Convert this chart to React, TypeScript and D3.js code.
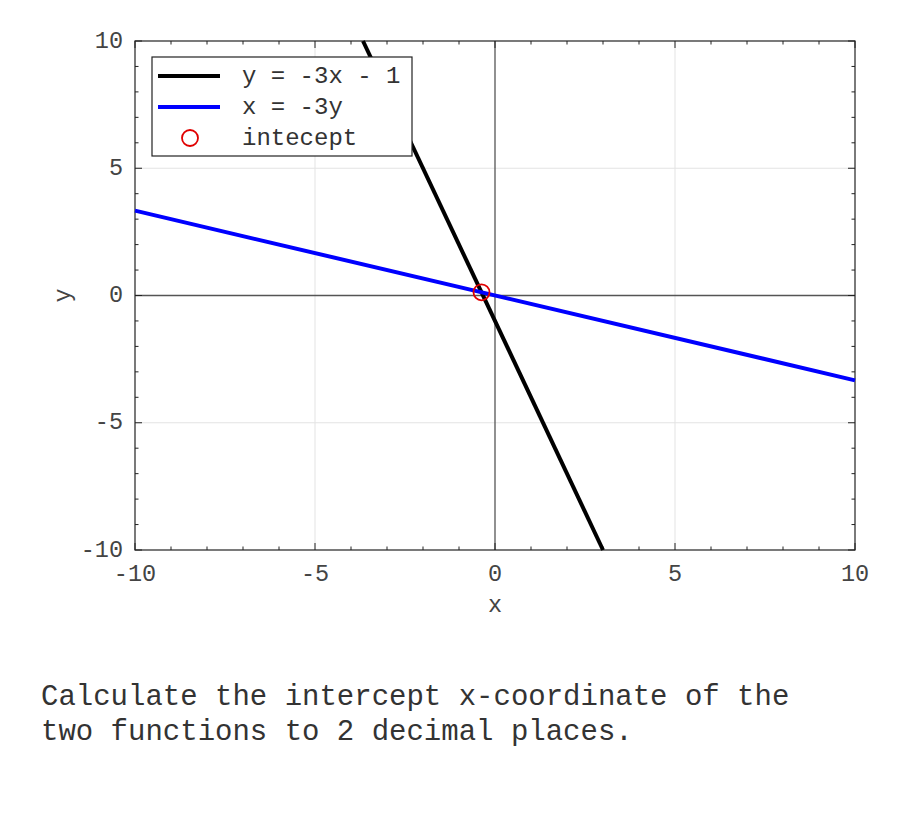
import React from "react";
import * as d3 from "d3";

const xDomain: [number, number] = [-10, 10];
const yDomain: [number, number] = [-10, 10];
const majorTicks = [-10, -5, 0, 5, 10];
const minorTicks = d3.range(-10, 11, 1);
const gridTicks = [-5, 5];
const blackLineX = [-11 / 3, 3];
const blueLineX = [-10, 10];
const interceptPoint = [-0.375, 0.125];
const legendLabels = ["y = -3x - 1", "x = -3y", "intecept"];
const captionLines = [
  "Calculate the intercept x-coordinate of the",
  "two functions to 2 decimal places.",
];

const fBlack = (x: number) => -3 * x - 1;
const fBlue = (x: number) => -x / 3;

export default function App() {
  const W = 900, H = 825;
  const L = 135, R = 855, T = 41, B = 550;
  const x = d3.scaleLinear().domain(xDomain).range([L, R]);
  const y = d3.scaleLinear().domain(yDomain).range([B, T]);
  const line = d3.line<number[]>().x((d) => x(d[0])).y((d) => y(d[1]));
  const font = "'Courier New', Courier, 'Liberation Mono', monospace";
  const tickColor = "#222";
  const labelColor = "#444";

  return (
    <svg width={W} height={H} style={{ position: "absolute", left: 0, top: 0 }} fontFamily={font}>
      <rect x={0} y={0} width={W} height={H} fill="white" />
      {gridTicks.map((t) => (
        <g key={"g" + t}>
          <line x1={x(t)} x2={x(t)} y1={T} y2={B} stroke="#e3e3e3" strokeWidth={1} />
          <line x1={L} x2={R} y1={y(t)} y2={y(t)} stroke="#e3e3e3" strokeWidth={1} />
        </g>
      ))}
      <line x1={x(0)} x2={x(0)} y1={T} y2={B} stroke="#555" strokeWidth={1.3} />
      <line x1={L} x2={R} y1={y(0)} y2={y(0)} stroke="#555" strokeWidth={1.3} />
      {minorTicks.map((t) => {
        const len = majorTicks.includes(t) ? 7 : 3.5;
        return (
          <g key={"t" + t} stroke={tickColor} strokeWidth={1}>
            <line x1={x(t)} x2={x(t)} y1={B} y2={B - len} />
            <line x1={x(t)} x2={x(t)} y1={T} y2={T + len} />
            <line x1={L} x2={L + len} y1={y(t)} y2={y(t)} />
            <line x1={R} x2={R - len} y1={y(t)} y2={y(t)} />
          </g>
        );
      })}
      <rect x={L} y={T} width={R - L} height={B - T} fill="none" stroke={tickColor} strokeWidth={1.2} />
      <path d={line(blackLineX.map((v) => [v, fBlack(v)]))!} stroke="#000" strokeWidth={4} fill="none" />
      <path d={line(blueLineX.map((v) => [v, fBlue(v)]))!} stroke="#0000ff" strokeWidth={4} fill="none" />
      <circle cx={x(interceptPoint[0])} cy={y(interceptPoint[1])} r={8} fill="none" stroke="#e00000" strokeWidth={1.8} />
      {majorTicks.map((t) => (
        <g key={"l" + t} fill={labelColor} fontSize={23.5}>
          <text x={x(t)} y={574} textAnchor="middle" dominantBaseline="central">{t}</text>
          <text x={123} y={y(t)} textAnchor="end" dominantBaseline="central">{t}</text>
        </g>
      ))}
      <text x={x(0)} y={605} textAnchor="middle" dominantBaseline="central" fontSize={23.5} fill={labelColor}>x</text>
      <text transform={`translate(63,${y(0)}) rotate(-90)`} textAnchor="middle" dominantBaseline="central" fontSize={23.5} fill={labelColor}>y</text>
      <rect x={152} y={57} width={260} height={99} fill="white" stroke="#222" strokeWidth={1.2} />
      <line x1={158} x2={220} y1={76} y2={76} stroke="#000" strokeWidth={4} />
      <line x1={158} x2={220} y1={107} y2={107} stroke="#0000ff" strokeWidth={4} />
      <circle cx={190} cy={138} r={8} fill="none" stroke="#e00000" strokeWidth={1.8} />
      {legendLabels.map((s, i) => (
        <text key={s} x={242} y={76 + i * 31} dominantBaseline="central" fontSize={24} fill="#333">{s}</text>
      ))}
      {captionLines.map((s, i) => (
        <text key={s} x={41} y={697 + i * 35} dominantBaseline="central" fontSize={29} fill="#333">{s}</text>
      ))}
    </svg>
  );
}
